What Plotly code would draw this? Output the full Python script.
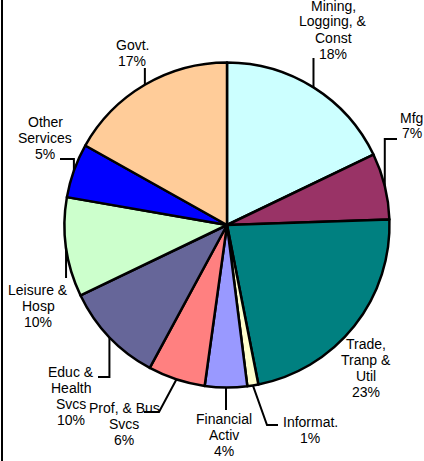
import math
import plotly.graph_objects as go

W, H = 424, 461

# ---- data ----
categories = ["Mining, Logging, & Const", "Mfg", "Trade, Tranp & Util", "Informat.",
              "Financial Activ", "Prof, & Bus Svcs", "Educ & Health Svcs",
              "Leisure & Hosp", "Other Services", "Govt."]
label_lines = [["Mining,", "Logging, &", "Const"], ["Mfg"], ["Trade,", "Tranp &", "Util"],
               ["Informat."], ["Financial", "Activ"], ["Prof, & Bus", "Svcs"],
               ["Educ &", "Health", "Svcs"], ["Leisure &", "Hosp"], ["Other", "Services"],
               ["Govt."]]
shares = [17.9, 6.6, 22.5, 1.1, 4.2, 5.7, 10.0, 9.9, 5.4, 16.9]
pct_labels = ["18%", "7%", "23%", "1%", "4%", "6%", "10%", "10%", "5%", "17%"]

# ---- style / layout ----
colors = ["#CCFFFF", "#993366", "#008080", "#FFFFCC", "#9999FF", "#FF8080",
          "#666699", "#CCFFCC", "#0000FF", "#FFCC99"]
CX, CY, R = 227, 225, 162.5
FONT = dict(family="Liberation Sans, Arial, sans-serif", size=14, color="black")
LINE_GAP = 16
# label block centers (pixels)
label_pos = [(333, 29.5), (411.5, 125.5), (366, 368), (310, 429.5), (224, 435),
             (124, 424), (71, 396), (38, 306), (45, 138), (132, 52.5)]
# leader waypoints after the slice edge point; "sx" means keep the start x
leaders = [[("sx", 58)], [("sx", 139), (397, 139)], [], [(267, 425), (278, 425)],
           [("sx", 410)], [(159, 412), (144, 412)], [("sx", 377), (98, 377)],
           [("sx", 278)], [("sx", 159), (60, 159)], [("sx", 68)]]


def px(x):
    return x / W


def py(y):
    return 1 - y / H


fig = go.Figure(go.Pie(
    labels=categories, values=shares, sort=False, direction="clockwise", rotation=0,
    marker=dict(colors=colors, line=dict(color="black", width=2.5)),
    textinfo="none", hoverinfo="label+percent", showlegend=False,
    domain=dict(x=[px(CX - R), px(CX + R)], y=[py(CY + R), py(CY - R)]),
))

annotations = []
shapes = []
total = sum(shares)
cum = 0.0
for i, v in enumerate(shares):
    mid = (cum + v / 2) / total * 2 * math.pi
    cum += v
    sx = CX + R * math.sin(mid)
    sy = CY - R * math.cos(mid)
    pts = [(sx, sy)] + [((sx if x == "sx" else x), y) for x, y in leaders[i]]
    if len(pts) > 1:
        path = "M " + " L ".join(f"{px(x)},{py(y)}" for x, y in pts)
        shapes.append(dict(type="path", xref="paper", yref="paper", path=path,
                           line=dict(color="black", width=2)))
    lines = label_lines[i] + [pct_labels[i]]
    lx, ly = label_pos[i]
    n = len(lines)
    for j, t in enumerate(lines):
        yy = ly + (j - (n - 1) / 2) * LINE_GAP
        annotations.append(dict(text=t, x=px(lx), y=py(yy), xref="paper", yref="paper",
                                xanchor="center", yanchor="middle", showarrow=False,
                                font=FONT))

# left frame edge
shapes.append(dict(type="line", xref="paper", yref="paper", x0=px(2), x1=px(2), y0=0, y1=1,
                   line=dict(color="black", width=2)))

fig.update_layout(width=W, height=H, margin=dict(l=0, r=0, t=0, b=0),
                  paper_bgcolor="white", plot_bgcolor="white",
                  annotations=annotations, shapes=shapes)
fig.write_html("out.html", config={"displayModeBar": False},
               post_script="document.body.style.margin='0';document.body.style.overflow='hidden';")
